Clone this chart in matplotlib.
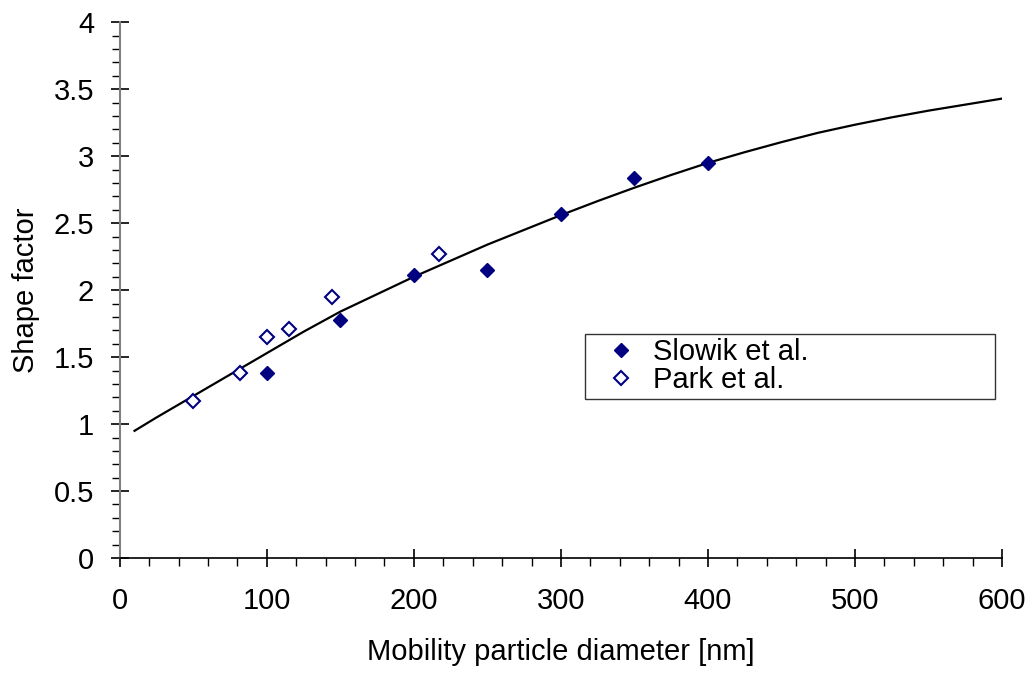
import matplotlib
matplotlib.use("Agg")
import matplotlib.pyplot as plt
from matplotlib.ticker import MultipleLocator

# ====== 数据 ======
curve_x = [10, 25, 50, 75, 100, 125, 150, 175, 200, 225, 250, 275, 300, 325, 350, 375,
           400, 425, 450, 475, 500, 525, 550, 575, 600]
curve_y = [0.95, 1.05, 1.21, 1.37, 1.53, 1.69, 1.84, 1.97, 2.10, 2.22, 2.34, 2.45, 2.56,
           2.665, 2.765, 2.86, 2.95, 3.03, 3.105, 3.175, 3.235, 3.29, 3.34, 3.385, 3.43]

slowik_x = [100, 150, 200, 250, 300, 350, 400]
slowik_y = [1.38, 1.78, 2.11, 2.15, 2.57, 2.84, 2.95]

park_x = [50, 82, 100, 115, 144, 217]
park_y = [1.17, 1.38, 1.65, 1.71, 1.95, 2.27]

y_ticks = [0, 0.5, 1, 1.5, 2, 2.5, 3, 3.5, 4]
y_ticklabels = ['0', '0.5', '1', '1.5', '2', '2.5', '3', '3.5', '4']

plt.rcParams['font.family'] = ['Liberation Sans', 'DejaVu Sans']

fig = plt.figure(figsize=(10.33, 6.74), dpi=100)
ax = fig.add_axes([0.116, 0.172, 0.854, 0.795])

navy = '#000080'
ax.plot(curve_x, curve_y, color='black', lw=1.6, zorder=2)
ax.plot(slowik_x, slowik_y, 'D', color=navy, markersize=7.5, label='Slowik et al.', zorder=3)
ax.plot(park_x, park_y, 'D', markerfacecolor='white', markeredgecolor=navy,
        markeredgewidth=1.5, markersize=7, label='Park et al.', zorder=3)

ax.set_xlim(0, 600)
ax.set_ylim(0, 4)
ax.xaxis.set_major_locator(MultipleLocator(100))
ax.xaxis.set_minor_locator(MultipleLocator(20))
ax.set_yticks(y_ticks)
ax.set_yticklabels(y_ticklabels)
ax.yaxis.set_minor_locator(MultipleLocator(0.1))

ax.spines['top'].set_visible(False)
ax.spines['right'].set_visible(False)
ax.spines['left'].set_color('#808080')
ax.spines['left'].set_linewidth(1.5)
ax.spines['bottom'].set_color('black')
ax.spines['bottom'].set_linewidth(1.2)

ax.tick_params(which='major', direction='inout', length=13, width=1.2, labelsize=21, color='black')
ax.tick_params(axis='x', which='major', pad=14)
ax.tick_params(axis='y', which='major', pad=12)
ax.tick_params(which='minor', direction='out', length=6, width=1.0, color='black')

ax.set_xlabel('Mobility particle diameter [nm]', fontsize=21, labelpad=17)
ax.set_ylabel('Shape factor', fontsize=21, labelpad=10)

leg = ax.legend(loc='upper left', bbox_to_anchor=(0.527, 0.299, 0.465, 0.119), mode='expand',
                fontsize=21, frameon=True, fancybox=False, handletextpad=0.0,
                borderpad=0.15, labelspacing=0.0, handlelength=2.2, borderaxespad=0)
leg.get_frame().set_edgecolor('black')
leg.get_frame().set_linewidth(1.0)

plt.savefig('out.png', dpi=100)
